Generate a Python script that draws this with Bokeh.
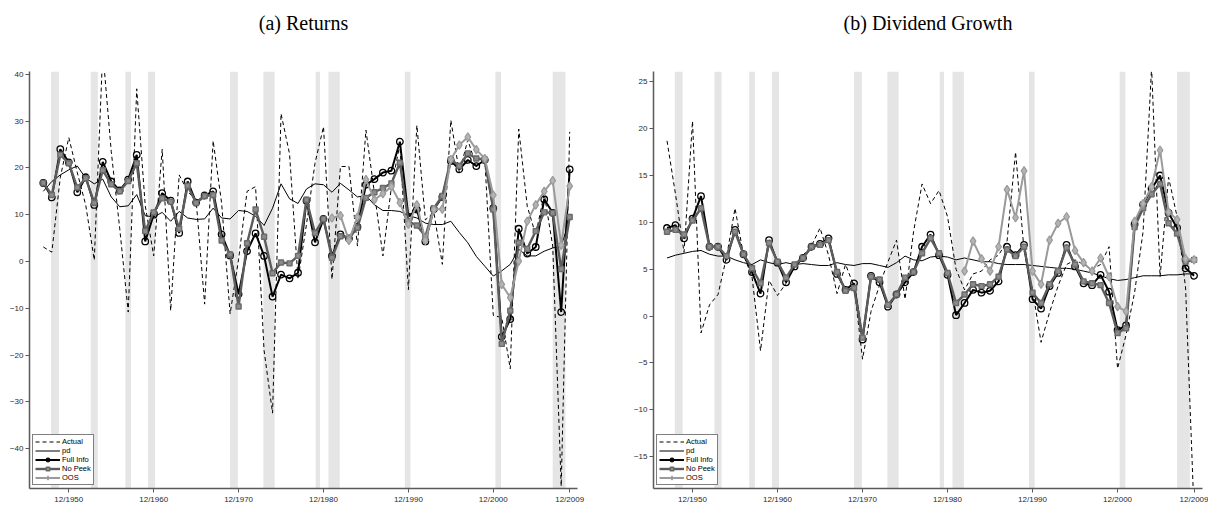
import numpy as np
from bokeh.plotting import figure
from bokeh.models import Range1d, FixedTicker, Legend, LegendItem, Title
from bokeh.layouts import row
from bokeh.embed import file_html
from bokeh.resources import INLINE

# ---------------- data ----------------
years = list(range(1947, 2010))  # December of each year

ret_actual = [3.1, 2.0, 18.0, 26.5, 19.0, 12.0, 0.3, 45.0, 23.5, 7.0,
              -10.8, 36.9, 12.0, 1.2, 24.0, -10.5, 18.5, 15.0, 13.0, -9.1,
              25.8, 12.5, -11.2, 0.5, 15.0, 16.0, -19.0, -32.4, 31.6, 23.0,
              -3.8, 8.0, 21.0, 28.8, -3.8, 20.3, 20.3, 3.3, 28.1, 14.6,
              1.2, 16.0, 25.0, -6.0, 29.1, 8.9, 10.5, -0.6, 30.2, 19.0,
              26.0, 20.3, 22.0, -11.5, -12.0, -22.9, 28.3, 11.8, 5.7, 14.5,
              3.3, -48.0, 27.7]
ret_pd = [15.0, 17.1, 18.5, 19.6, 20.4, 17.8, 16.6, 17.6, 13.8, 11.7,
          11.9, 14.3, 9.8, 9.5, 10.5, 8.6, 10.7, 9.3, 9.0, 9.1,
          11.4, 9.3, 9.1, 10.9, 10.7, 9.7, 7.7, 11.4, 16.6, 13.4,
          12.4, 15.5, 16.6, 16.4, 14.8, 16.7, 15.3, 13.8, 14.1, 12.1,
          10.9, 10.9, 10.7, 9.8, 9.3, 8.2, 7.9, 7.9, 8.6, 6.2,
          4.0, 1.1, -1.0, -3.1, -2.0, -0.6, 2.6, 1.2, 1.2, 2.2,
          2.9, 3.3, 9.0]
ret_full = [16.8, 13.7, 24.0, 21.2, 14.8, 18.0, 12.1, 21.3, 17.1, 15.2,
            17.5, 22.8, 4.3, 10.0, 14.6, 13.0, 6.1, 17.1, 12.6, 14.1,
            15.0, 5.8, 1.3, -7.0, 2.2, 6.0, 1.2, -7.5, -2.8, -3.6,
            -2.4, 13.0, 4.1, 9.1, 1.2, 5.8, 4.9, 7.4, 16.4, 17.6,
            19.0, 19.4, 25.6, 9.6, 11.1, 4.3, 11.2, 13.8, 21.5, 19.7,
            21.7, 20.4, 21.7, 11.4, -16.1, -12.3, 7.0, 1.7, 3.1, 13.3,
            10.4, -10.8, 19.7]
ret_nopeek = [16.8, 14.2, 22.8, 21.0, 15.8, 17.8, 12.5, 19.5, 16.5, 15.0,
              17.2, 21.0, 6.5, 10.5, 13.5, 12.8, 7.0, 16.2, 12.5, 14.0,
              14.2, 4.5, 1.5, -9.6, 3.9, 11.1, 5.3, -2.5, -0.2, -0.4,
              1.2, 13.2, 6.1, 9.1, 0.8, 5.4, 5.1, 7.2, 13.6, 14.8,
              15.7, 16.7, 21.1, 8.6, 7.7, 5.4, 11.4, 14.0, 21.8, 20.4,
              23.1, 22.0, 21.8, 11.1, -17.6, -10.5, 4.0, 2.7, 6.5, 10.5,
              10.4, -1.6, 9.5]
ret_oos_years = list(range(1981, 2010))
ret_oos = [9.3, 9.8, 4.5, 9.5, 17.5, 13.2, 14.5, 16.0, 12.6, 8.0,
           12.1, 4.5, 11.1, 11.2, 21.8, 24.9, 26.6, 23.9, 22.0, 14.2,
           -4.9, -7.7, 0.1, 8.6, 12.1, 15.0, 17.3, 3.5, 16.1]

div_actual = [18.7, 13.0, 6.8, 20.8, -1.8, 1.2, 2.3, 6.3, 11.5, 6.5,
              4.2, -3.7, 3.8, 2.2, 3.5, 5.5, 6.5, 7.5, 9.4, 6.5,
              2.4, 5.5, 3.2, -4.6, 0.5, 3.3, 5.8, 8.1, 1.8, 9.0,
              14.1, 12.0, 13.4, 10.6, 5.0, 2.8, 4.5, 4.8, 6.0, 6.5,
              8.0, 17.5, 7.0, 2.8, -2.8, 0.4, 3.2, 5.5, 6.0, 5.5,
              5.0, 5.5, 7.4, -5.6, -2.0, 2.5, 9.0, 26.5, 4.2, 14.8,
              10.6, 3.0, -21.0]
div_pd = [6.2, 6.5, 6.7, 6.9, 7.0, 6.6, 6.4, 6.4, 6.0, 5.7,
          5.5, 6.0, 5.7, 5.5, 5.7, 5.5, 5.6, 5.5, 5.4, 5.4,
          5.7, 5.5, 5.4, 5.6, 5.6, 5.4, 5.2, 5.7, 6.4, 6.0,
          5.9, 6.3, 6.4, 6.3, 6.0, 6.2, 6.0, 5.8, 5.8, 5.6,
          5.5, 5.5, 5.5, 5.4, 5.3, 5.2, 5.1, 5.1, 5.0, 4.8,
          4.6, 4.3, 4.0, 3.8, 3.9, 4.1, 4.3, 4.3, 4.3, 4.4,
          4.4, 4.5, 4.5]
div_full = [9.4, 9.7, 8.3, 10.4, 12.8, 7.4, 7.4, 6.0, 9.2, 6.6,
            4.7, 2.4, 8.1, 5.7, 3.6, 5.3, 6.2, 7.4, 7.7, 8.3,
            4.5, 2.8, 3.5, -2.5, 4.3, 3.6, 1.0, 2.3, 3.6, 4.7,
            7.4, 8.7, 6.5, 4.4, 0.1, 1.4, 2.8, 2.5, 2.7, 3.7,
            7.4, 6.5, 7.6, 1.8, 0.8, 3.2, 4.6, 7.6, 5.3, 3.5,
            3.3, 4.4, 2.6, -1.5, -1.0, 9.8, 11.9, 13.6, 15.0, 11.0,
            9.4, 5.1, 4.3]
div_nopeek = [9.0, 9.2, 8.7, 10.2, 11.5, 7.4, 7.4, 6.4, 9.0, 6.6,
              5.1, 3.5, 7.8, 5.8, 4.1, 5.5, 6.2, 7.4, 7.6, 8.1,
              4.7, 2.7, 3.0, -2.3, 4.2, 3.9, 1.2, 2.3, 4.1, 4.7,
              6.7, 8.3, 6.7, 4.6, 1.4, 2.3, 3.4, 3.2, 3.4, 4.2,
              7.1, 6.4, 7.4, 2.5, 1.4, 3.4, 4.8, 7.3, 5.5, 3.7,
              3.5, 3.3, 1.4, -1.8, -1.3, 9.5, 11.5, 13.0, 14.1, 9.9,
              8.8, 5.8, 6.0]
div_oos_years = list(range(1982, 2010))
div_oos = [4.8, 8.0, 6.1, 4.8, 7.4, 13.5, 10.5, 15.5, 4.8, 3.4,
           8.1, 9.9, 10.6, 7.0, 5.7, 4.8, 6.2, 4.2, 1.0, 0.5,
           10.1, 12.0, 13.8, 17.7, 11.1, 10.3, 6.1, 6.0]

# NBER recessions (peak / trough)
rec_peak_year = [1948, 1953, 1957, 1960, 1969, 1973, 1980, 1981, 1990, 2001, 2007]
rec_peak_month = [11, 7, 8, 4, 12, 11, 1, 7, 7, 3, 12]
rec_trough_year = [1949, 1954, 1958, 1961, 1970, 1975, 1980, 1982, 1991, 2001, 2009]
rec_trough_month = [10, 5, 4, 2, 11, 3, 7, 11, 3, 11, 6]

x_tick_years = [1950, 1960, 1970, 1980, 1990, 2000, 2009]
ret_yticks = [-40, -30, -20, -10, 0, 10, 20, 30, 40]
div_yticks = [-15, -10, -5, 0, 5, 10, 15, 20, 25]


def to_x(y, m):
    # x coordinate: December of year Y is at Y
    return y + (m - 12) / 12.0


rec_left = [to_x(y, m) for y, m in zip(rec_peak_year, rec_peak_month)]
rec_right = [to_x(y, m) for y, m in zip(rec_trough_year, rec_trough_month)]

TICK_FONT = "Liberation Sans"
AXIS_COLOR = "#5a5a5a"
H = 506
TOP = 71
BOTTOM = 15


def make_panel(title_text, actual, pdv, full, nopeek, oos_years, oos,
               y0, y1, yticks, x0, x1, width, bl, br):
    p = figure(width=width, height=H,
               x_range=Range1d(x0, x1), y_range=Range1d(y0, y1),
               output_backend="svg", toolbar_location=None,
               min_border_left=bl, min_border_right=br,
               min_border_top=TOP, min_border_bottom=BOTTOM)
    # spacer between frame and title, then the title itself
    p.add_layout(Title(text=" ", text_font_size="1px", standoff=35), "above")
    p.add_layout(Title(text=title_text, align="center",
                       text_font="Liberation Serif", text_font_size="20px",
                       text_font_style="normal", text_color="black",
                       standoff=0), "above")
    p.grid.visible = False
    p.outline_line_color = None
    p.background_fill_color = "white"
    p.border_fill_color = "white"

    # recession shading
    p.quad(left=rec_left, right=rec_right, bottom=y0, top=y1,
           fill_color="#e5e5e5", line_color=None)

    r_act = p.line(years, actual, line_color="black", line_width=1,
                   line_dash="4 3")
    r_pd = p.line(years, pdv, line_color="black", line_width=1)
    r_fl = p.line(years, full, line_color="black", line_width=2)
    r_fm = p.scatter(years, full, marker="circle", size=6.5,
                     line_color="black", line_width=1.3, fill_color=None)
    r_nl = p.line(years, nopeek, line_color="#5c5c5c", line_width=2.4)
    r_nm = p.scatter(years, nopeek, marker="square", size=5,
                     line_color="#6a6a6a", line_width=1.4, fill_color="#8c8c8c")
    r_ol = p.line(oos_years, oos, line_color="#9a9a9a", line_width=2)
    r_om = p.scatter(oos_years, oos, marker="diamond", size=8.5,
                     line_color="#9a9a9a", line_width=1.2, fill_color="#b4b4b4")

    legend = Legend(items=[
        LegendItem(label="Actual", renderers=[r_act]),
        LegendItem(label="pd", renderers=[r_pd]),
        LegendItem(label="Full Info", renderers=[r_fl, r_fm]),
        LegendItem(label="No Peek", renderers=[r_nl, r_nm]),
        LegendItem(label="OOS", renderers=[r_ol, r_om]),
    ], location="bottom_left")
    legend.margin = 3
    legend.padding = 2
    legend.spacing = 0
    legend.glyph_width = 25
    legend.glyph_height = 9
    legend.label_height = 9
    legend.label_standoff = 2
    legend.label_text_font = TICK_FONT
    legend.label_text_font_size = "7.5px"
    legend.label_text_color = "black"
    legend.border_line_color = "black"
    legend.border_line_width = 1.5
    legend.background_fill_color = "white"
    legend.background_fill_alpha = 1.0
    p.add_layout(legend)

    for ax in (p.xaxis[0], p.yaxis[0]):
        ax.axis_line_color = AXIS_COLOR
        ax.axis_line_width = 1.5
        ax.major_tick_line_color = AXIS_COLOR
        ax.major_tick_line_width = 1
        ax.major_tick_out = 4
        ax.major_tick_in = 0
        ax.minor_tick_line_color = None
        ax.major_label_text_font = TICK_FONT
        ax.major_label_text_font_size = "8px"
        ax.major_label_text_color = "#2a2a2a"
        ax.major_label_standoff = 2
        ax.axis_label_standoff = 0

    p.xaxis.ticker = FixedTicker(ticks=x_tick_years)
    p.xaxis.major_label_overrides = {y: "12/%d" % y for y in x_tick_years}
    p.yaxis.ticker = FixedTicker(ticks=yticks)
    p.yaxis.major_label_overrides = {
        t: (("\u2212%d" % -t) if t < 0 else str(t)) for t in yticks}
    return p


p1 = make_panel("(a) Returns", ret_actual, ret_pd, ret_full, ret_nopeek,
                ret_oos_years, ret_oos, -48.5, 40.6, ret_yticks,
                1945.37, 2009.92, 608, 29, 31)
p2 = make_panel("(b) Dividend Growth", div_actual, div_pd, div_full, div_nopeek,
                div_oos_years, div_oos, -18.4, 26.1, div_yticks,
                1945.41, 2009.99, 600, 45, 6)

layout = row(p1, p2)
open("out.html", "w").write(file_html(layout, INLINE))
